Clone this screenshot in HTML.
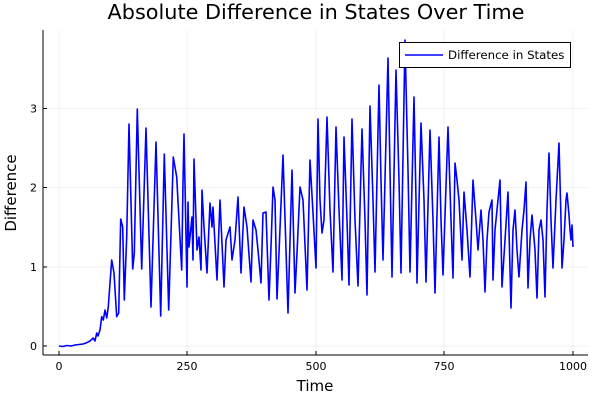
<!DOCTYPE html>
<html><head><meta charset="utf-8"><style>body{margin:0;background:#fff}svg{display:block;font-family:"DejaVu Sans",sans-serif}</style></head>
<body>
<svg width="600" height="400" viewBox="0 0 600 400" xmlns="http://www.w3.org/2000/svg">
<rect width="600" height="400" fill="#fff"/>
<g stroke="#000" stroke-opacity="0.1" stroke-width="0.6">
<line x1="59" y1="30" x2="59" y2="355"/><line x1="187" y1="30" x2="187" y2="355"/><line x1="316" y1="30" x2="316" y2="355"/><line x1="444" y1="30" x2="444" y2="355"/><line x1="573" y1="30" x2="573" y2="355"/>
<line x1="43" y1="346" x2="588" y2="346"/><line x1="43" y1="267" x2="588" y2="267"/><line x1="43" y1="187.5" x2="588" y2="187.5"/><line x1="43" y1="108.5" x2="588" y2="108.5"/>
</g>
<g stroke="#000" stroke-width="1">
<line x1="43" y1="355" x2="588" y2="355"/><line x1="43" y1="30" x2="43" y2="355"/>
<line x1="59" y1="355" x2="59" y2="351"/><line x1="187" y1="355" x2="187" y2="351"/><line x1="316" y1="355" x2="316" y2="351"/><line x1="444" y1="355" x2="444" y2="351"/><line x1="573" y1="355" x2="573" y2="351"/>
<line x1="43" y1="346" x2="47" y2="346"/><line x1="43" y1="267" x2="47" y2="267"/><line x1="43" y1="187.5" x2="47" y2="187.5"/><line x1="43" y1="108.5" x2="47" y2="108.5"/>
</g>
<g font-size="11" fill="#000" text-anchor="middle">
<text x="59" y="370">0</text><text x="187" y="370">250</text><text x="316" y="370">500</text><text x="444" y="370">750</text><text x="573" y="370">1000</text>
</g>
<g font-size="11" fill="#000" text-anchor="end">
<text x="37" y="350">0</text><text x="37" y="271">1</text><text x="37" y="191.5">2</text><text x="37" y="112.5">3</text>
</g>
<text x="316" y="19" font-size="20.8" text-anchor="middle">Absolute Difference in States Over Time</text>
<text x="315" y="391" font-size="15" text-anchor="middle">Time</text>
<text transform="translate(16,193) rotate(-90)" font-size="15" text-anchor="middle">Difference</text>
<polyline fill="none" stroke="#0000ff" stroke-width="1.6" stroke-linejoin="round" points="
59,346 63,346.5 67,345.5 71,346 75,345 79,344.5 83,344 86.7,342.7 90,341 93.3,338 95,341 96.7,333 98,336 100,330 101.7,316.7 103.3,320 105,310 106.7,318 108.3,306.7 110,283 111.7,260 114,273 116.7,316.7 118.7,313 120.7,219 122.7,227 124.3,300 126.7,237 129,124 132.7,269 134.3,253 137.3,109 141.7,269 146,128 151,307 156,142 160.7,316 164.3,154 168.7,310 173.3,157 176.7,177 181.7,270 183,183 184,134 187,287 188,202 189,247 192,217 193,260 194,159 197,250 199,237 201,270 202,190 204,227 207,273 210,203 212,227 213,207 217,280 220,200 224,287 226,240 230,227 232,260 235,240 238,197 241,273 244,207 247,227 251,282 253,220 256,230 258,250 261,283 263,213 266,212 269,300 271,247 273,187 275,200 277,299 279,253 283,155 288,313 292,170 295,293 297,253 300,187 303,200 307,290 310,160 313,213 316,268 318,119 320,200 322,233 324,220 327,117 330,210 333,272 336,127 339,210 342,280 344,137 347,220 349,285 352,119 355,220 358,286 362,129 365,220 367,295 370,106 373,200 375,272 379,85 381,180 383,260 388,58 390,170 392,277 396,70 399,180 401,273 405,40 408,170 410,272 414,97 416,200 417,283 421,123 424,200 426,282 430,130 433,220 435,293 439,137 441,220 443,275 448,127 451,220 453,278 455,163 457,180 459,200 462,260 464,192 467,230 470,277 473,180 476,220 478,250 481,210 483,240 485,292 487,240 489,212 492,200 493,280 495,230 497,210 500,180 502,287 505,240 508,192 511,308 513,230 515,210 517,250 519,277 522,230 524,210 526,182 528,288 530,240 532,215 535,250 537,298 539,230 541,220 543,240 545,297 547,210 549,153 551,220 553,268 556,200 559,143 561,220 562,268 564,240 566,200 567,193 569,215 570,230 571,240 572,225 573,247"/>
<rect x="399.5" y="42.5" width="171" height="25" fill="#fff" stroke="#000" stroke-width="1"/>
<line x1="405" y1="55" x2="443" y2="55" stroke="#0000ff" stroke-width="1.6"/>
<text x="448" y="59" font-size="11.8">Difference in States</text>
</svg>
</body></html>
